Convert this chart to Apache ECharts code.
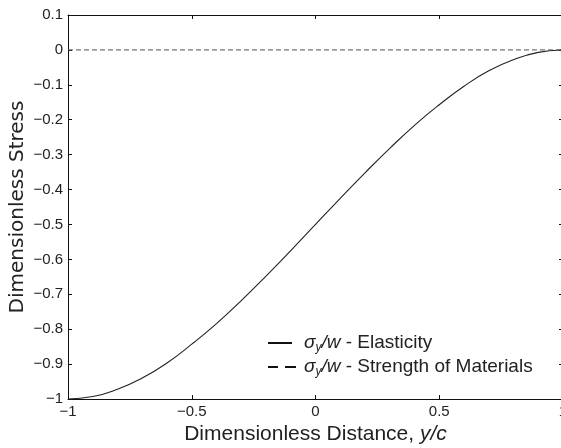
<!DOCTYPE html>
<html>
<head>
<meta charset="utf-8">
<script src="https://cdn.jsdelivr.net/npm/echarts@6/dist/echarts.min.js"></script>
<style>html,body{margin:0;padding:0;background:#fff}#c{width:561px;height:448px}</style>
</head>
<body>
<div id="c"></div>
<script>
var xValues = [-1, -0.9, -0.8, -0.7, -0.6, -0.5, -0.4, -0.3, -0.2, -0.1, 0, 0.1, 0.2, 0.3, 0.4, 0.5, 0.6, 0.7, 0.8, 0.9, 1];
var elasticity = [-1, -0.993, -0.972, -0.94, -0.897, -0.843, -0.784, -0.718, -0.648, -0.575, -0.5, -0.425, -0.352, -0.282, -0.216, -0.157, -0.104, -0.06, -0.028, -0.007, 0];
var strengthX = [-1, 1];
var strengthY = [0, 0];
var xTicks = [-1, -0.5, 0, 0.5, 1];
var yTicks = [-1, -0.9, -0.8, -0.7, -0.6, -0.5, -0.4, -0.3, -0.2, -0.1, 0, 0.1];
var legendLabels = [' - Elasticity', ' - Strength of Materials'];

function fmt(v) {
  var s = String(Math.round(v * 10) / 10);
  return s.replace('-', '\u2212');
}
var FONT = 'Liberation Sans, Arial, Helvetica, sans-serif';
var chart = echarts.init(document.getElementById('c'), null, {renderer: 'canvas'});
var legendRich = {
  i: {fontStyle: 'italic', fontSize: 19, fontFamily: FONT, fill: '#222'},
  s: {fontStyle: 'italic', fontSize: 12, fontFamily: FONT, fill: '#222', padding: [10, 0, 0, 0]},
  n: {fontSize: 19, fontFamily: FONT, fill: '#222'}
};
function legendText(label) {
  return '{i|\u03c3}{s|y}{i|/w}{n|' + label + '}';
}
var option = {
  animation: false,
  backgroundColor: '#fff',
  grid: {left: 68, width: 495, top: 15, bottom: 49, containLabel: false, outerBoundsMode: 'none'},
  graphic: [
    {type: 'line', shape: {x1: 268, y1: 343, x2: 292, y2: 343}, style: {stroke: '#111', lineWidth: 2}},
    {type: 'line', shape: {x1: 268, y1: 367, x2: 278, y2: 367}, style: {stroke: '#111', lineWidth: 2}},
    {type: 'line', shape: {x1: 285, y1: 367, x2: 296, y2: 367}, style: {stroke: '#111', lineWidth: 2}},
    {type: 'text', x: 304, y: 343, style: {text: legendText(legendLabels[0]), rich: legendRich, verticalAlign: 'middle', fill: '#222', font: '19px ' + FONT}},
    {type: 'text', x: 304, y: 367, style: {text: legendText(legendLabels[1]), rich: legendRich, verticalAlign: 'middle', fill: '#222', font: '19px ' + FONT}}
  ],
  xAxis: [{
    type: 'value', min: -1, max: 1, interval: 0.5,
    name: '{a|Dimensionless Distance, }{b|y/c}', nameLocation: 'middle', nameGap: 25,
    nameTextStyle: {rich: {a: {fontSize: 21, fontFamily: FONT, color: '#222'}, b: {fontSize: 21, fontFamily: FONT, fontStyle: 'italic', color: '#222'}}},
    axisLine: {onZero: false, lineStyle: {color: '#111', width: 1}},
    axisTick: {inside: true, length: 4, lineStyle: {color: '#111'}},
    axisLabel: {formatter: fmt, fontSize: 15, fontFamily: FONT, color: '#222', margin: 5},
    splitLine: {show: false}
  }, {
    type: 'value', min: -1, max: 1, interval: 0.5, position: 'top',
    axisLine: {onZero: false, lineStyle: {color: '#111', width: 1}},
    axisTick: {inside: true, length: 4, lineStyle: {color: '#111'}},
    axisLabel: {show: false}, splitLine: {show: false}
  }],
  yAxis: [{
    type: 'value', min: -1, max: 0.1, interval: 0.1,
    name: 'Dimensionless Stress', nameLocation: 'middle', nameGap: 40, nameMoveOverlap: false,
    nameTextStyle: {fontSize: 20, fontFamily: 'DejaVu Sans, ' + FONT, color: '#222'},
    axisLine: {onZero: false, lineStyle: {color: '#111', width: 1}},
    axisTick: {inside: true, length: 4, lineStyle: {color: '#111'}},
    axisLabel: {formatter: fmt, fontSize: 15, fontFamily: FONT, color: '#222', margin: 5},
    splitLine: {show: false}
  }, {
    type: 'value', min: -1, max: 0.1, interval: 0.1, position: 'right',
    axisLine: {onZero: false, lineStyle: {color: '#111', width: 1}},
    axisTick: {inside: true, length: 4, lineStyle: {color: '#111'}},
    axisLabel: {show: false}, splitLine: {show: false}
  }],
  series: [{
    name: 'el', type: 'line', smooth: true, symbol: 'none',
    data: xValues.map(function (x, i) { return [x, elasticity[i]]; }),
    lineStyle: {color: '#222', width: 1.1}
  }, {
    name: 'sm', type: 'line', symbol: 'none',
    data: strengthX.map(function (x, i) { return [x, strengthY[i]]; }),
    lineStyle: {color: '#555', width: 1, type: [5, 3]}
  }]
};
chart.setOption(option);
</script>
</body>
</html>
